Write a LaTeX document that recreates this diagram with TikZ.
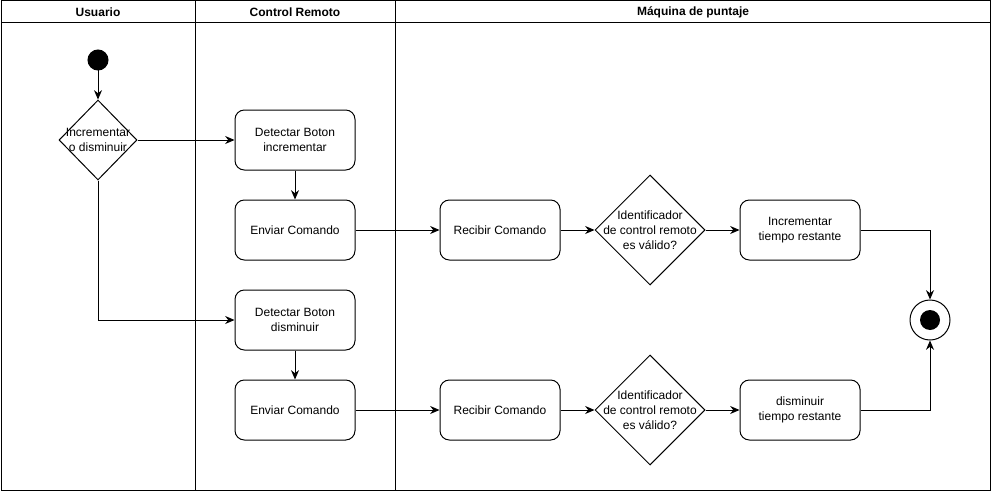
\documentclass[tikz,border=0pt]{standalone}
\usepackage{fontspec}
\setmainfont{Liberation Sans}
\usetikzlibrary{arrows.meta, shapes.geometric, positioning}
\tikzset{every node/.append style={font=\fontsize{9}{11.25}\selectfont}}

\begin{document}
\begin{tikzpicture}[x=0.75pt, y=-0.75pt, line width=0.75pt, >={Stealth[length=7pt,width=6pt]},
  lanetitle/.style={font=\fontsize{9}{11.25}\selectfont\bfseries},
  act/.style={draw, rounded corners=7pt, minimum width=90pt, minimum height=45pt, align=center},
  cond/.style={draw, diamond, inner sep=0pt, minimum width=82.5pt, minimum height=82.5pt},
  startdot/.style={draw, circle, fill=black, minimum size=15pt, inner sep=0pt},
  enddot/.style={draw, circle, minimum size=30pt, inner sep=0pt,
    path picture={\fill (path picture bounding box.center) circle (7.5pt);}},
  flow/.style={->}]
\useasboundingbox (0,0) rectangle (991,492);
% swimlanes
\draw (1,1) rectangle (990,490);
\draw (1,23) -- (990,23);
\draw (195,1) -- (195,490);
\draw (395,1) -- (395,490);
\node[lanetitle] (tUsr) at (98,12) {Usuario};
\node[lanetitle] (tCtl) at (295,12) {Control Remoto};
\node[lanetitle] (tMaq) at (693,12) {Máquina de puntaje};
% usuario
\node[startdot] (ini) at (98,60) {};
\node[cond, minimum width=58.5pt, minimum height=60pt,
  label={[align=center]center:{Incrementar\\o disminuir}}] (dec) at (98,140) {};
% control remoto
\node[act] (detInc) at (295,140) {Detectar Boton\\incrementar};
\node[act] (envInc) at (295,230) {Enviar Comando};
\node[act] (detDis) at (295,320) {Detectar Boton\\disminuir};
\node[act] (envDis) at (295,410) {Enviar Comando};
% maquina
\node[act] (recInc) at (500,230) {Recibir Comando};
\node[cond, label={[align=center]center:{Identificador\\de control remoto\\es válido?}}] (valInc) at (650,230) {};
\node[act] (incT) at (800,230) {Incrementar\\tiempo restante};
\node[act] (recDis) at (500,410) {Recibir Comando};
\node[cond, label={[align=center]center:{Identificador\\de control remoto\\es válido?}}] (valDis) at (650,410) {};
\node[act] (disT) at (800,410) {disminuir\\tiempo restante};
\node[enddot] (fin) at (930,320) {};
% flujos
\draw[flow] (ini) -- (dec);
\draw[flow] (dec) -- (detInc);
\draw[flow] (dec) |- (detDis);
\draw[flow] (detInc) -- (envInc);
\draw[flow] (detDis) -- (envDis);
\draw[flow] (envInc) -- (recInc);
\draw[flow] (recInc) -- (valInc);
\draw[flow] (valInc) -- (incT);
\draw[flow] (incT) -| (fin);
\draw[flow] (envDis) -- (recDis);
\draw[flow] (recDis) -- (valDis);
\draw[flow] (valDis) -- (disT);
\draw[flow] (disT) -| (fin);
\end{tikzpicture}
\end{document}
